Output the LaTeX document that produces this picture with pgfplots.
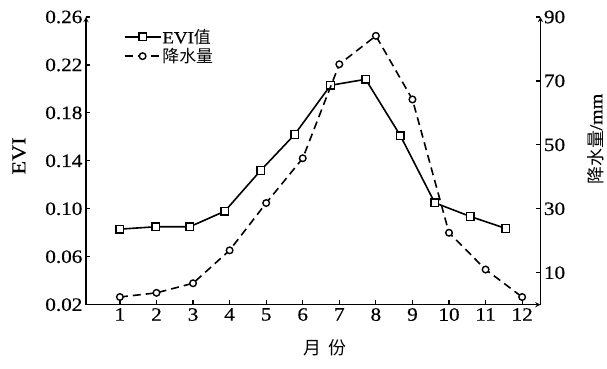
\documentclass[border=0pt]{standalone}
\usepackage{pgfplots}
\pgfplotsset{compat=1.18}
\usepackage{fontspec}
\setmainfont{Liberation Serif}[FakeStretch=1.12, FakeBold=0.4]
\newfontfamily\cjk{Noto Sans CJK SC}
\begin{document}
\begin{tikzpicture}
\pgfplotsset{
  common/.style={
    width=455bp, height=288bp, scale only axis,
    xmin=0.07, xmax=12.5,
    major tick length=4.5bp,
    axis line style={-, line width=1.3bp},
    every outer y axis line/.append style={-},
    every outer x axis line/.append style={-},
    every inner y axis line/.append style={-},
    every inner x axis line/.append style={-},
    y axis line style={-},
    x axis line style={-},
    every tick/.style={line width=1.2bp, black},
    tick label style={font=\fontsize{19}{22}\selectfont},
    /pgf/number format/assume math mode=true,
  },
  evi/.style={black, line width=1.6bp, mark=square*, mark size=3.8bp, mark options={solid, fill=white, line width=1.4bp}},
  pre/.style={black, line width=1.6bp, dash pattern=on 8bp off 5bp, mark=*, mark size=3.3bp, mark options={solid, fill=white, line width=1.4bp}},
}
\begin{axis}[common,
  axis x line=bottom, axis y line=left,
  tick align=inside,
  ymin=0.02, ymax=0.26,
  ytick={0.02,0.06,0.10,0.14,0.18,0.22,0.26},
  yticklabel style={/pgf/number format/.cd, fixed, fixed zerofill, precision=2},
  xtick={1,2,3,4,5,6,7,8,9,10,11,12},
  ylabel={EVI},
  ylabel style={font=\fontsize{20}{23}\selectfont, at={(axis description cs:-0.147,0.517)}, anchor=center},
  xlabel={\cjk 月\hspace{0.4em}份},
  xlabel style={font=\fontsize{18}{21}\selectfont, at={(axis description cs:0.525,-0.149)}, anchor=center},
]
\addplot[evi] coordinates {
(1,0.083) (1.98,0.085) (2.91,0.085) (3.87,0.098) (4.85,0.132) (5.78,0.162)
(6.76,0.203) (7.72,0.208) (8.67,0.161) (9.61,0.105) (10.58,0.0936) (11.55,0.0836)
};
\end{axis}
\begin{axis}[common,
  axis x line=none, axis y line=right,
  tick align=inside,
  ymin=0, ymax=90,
  ytick={10,30,50,70,90},
  ylabel={{\cjk 降水量}/mm},
  ylabel style={font=\fontsize{18}{21}\selectfont, at={(axis description cs:1.121,0.576)}, anchor=center},
  clip=false,
  legend style={draw=none, fill=none, at={(0.083,0.962)}, anchor=north west,
    font=\fontsize{17}{20}\selectfont, row sep=1.5bp, inner sep=0pt,
    nodes={inner sep=1bp}},
  legend cell align=left,
  legend image code/.code={\draw[mark repeat=2, mark phase=2, #1] plot coordinates {(0bp,0bp) (18bp,0bp) (36bp,0bp)};},
]
\addlegendimage{evi}
\addlegendentry{EVI{\cjk 值}}
\addplot[pre] coordinates {
(1,2.4) (2,3.7) (3,6.7) (4,17.0) (5,31.8) (6,45.8)
(7,75.2) (8,84.1) (9,64.2) (10,22.5) (11,11.0) (12,2.4)
};
\addlegendentry{{\cjk 降水量}}
\path (rel axis cs:-0.189,-0.222) rectangle (rel axis cs:1.145,1.059);
\end{axis}
\end{tikzpicture}
\end{document}
